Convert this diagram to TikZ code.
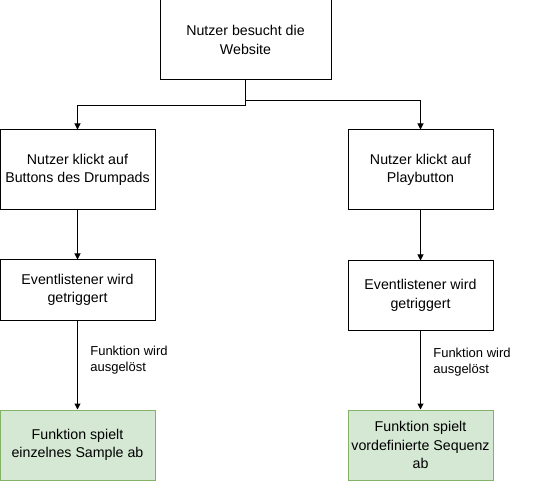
\documentclass[tikz,border=0pt]{standalone}
\usepackage{fontspec}
\setmainfont{Liberation Sans}
\usetikzlibrary{arrows.meta}
\definecolor{donefill}{HTML}{D5E8D4}
\definecolor{doneline}{HTML}{82B366}
\begin{document}
\begin{tikzpicture}[x=1pt,y=-1pt,
  box/.style={draw,line width=1pt,align=center,inner sep=0pt,
    font=\fontsize{14.2}{18.5}\selectfont},
  done/.style={box,fill=donefill,draw=doneline},
  arr/.style={line width=1pt,-{Triangle[length=6pt,width=6pt]}},
  lbl/.style={right=9pt,align=left,font=\fontsize{13}{16}\selectfont}]
  \useasboundingbox (0,0) rectangle (541,481);
  \node[box,minimum width=171pt,minimum height=80pt] (visit) at (245.5,40) {Nutzer besucht die\\Website};
  \node[box,minimum width=155pt,minimum height=80pt] (pads) at (77.5,170) {Nutzer klickt auf\\Buttons des Drumpads};
  \node[box,minimum width=145pt,minimum height=80pt] (play) at (420.5,170) {Nutzer klickt auf\\Playbutton};
  \node[box,minimum width=155pt,minimum height=60pt] (lev) at (77.5,290) {Eventlistener wird\\getriggert};
  \node[box,minimum width=145pt,minimum height=69pt] (rev) at (420.5,295.5) {Eventlistener wird\\getriggert};
  \node[done,minimum width=155pt,minimum height=70pt] (sample) at (77.5,445) {Funktion spielt\\einzelnes Sample ab};
  \node[done,minimum width=145pt,minimum height=70pt] (seq) at (420.5,445) {Funktion spielt\\vordefinierte Sequenz\\ab};
  \draw[arr] (visit.south) -- ++(0,25) -| (pads.north);
  \draw[arr] (visit.south) -- ++(0,20) -| (play.north);
  \draw[arr] (pads) -- (lev);
  \draw[arr] (play) -- (rev);
  \draw[arr] (lev) -- node[lbl,pos=.45] {Funktion wird\\ausgelöst} (sample);
  \draw[arr] (rev) -- node[lbl,pos=.4] {Funktion wird\\ausgelöst} (seq);
\end{tikzpicture}
\end{document}
